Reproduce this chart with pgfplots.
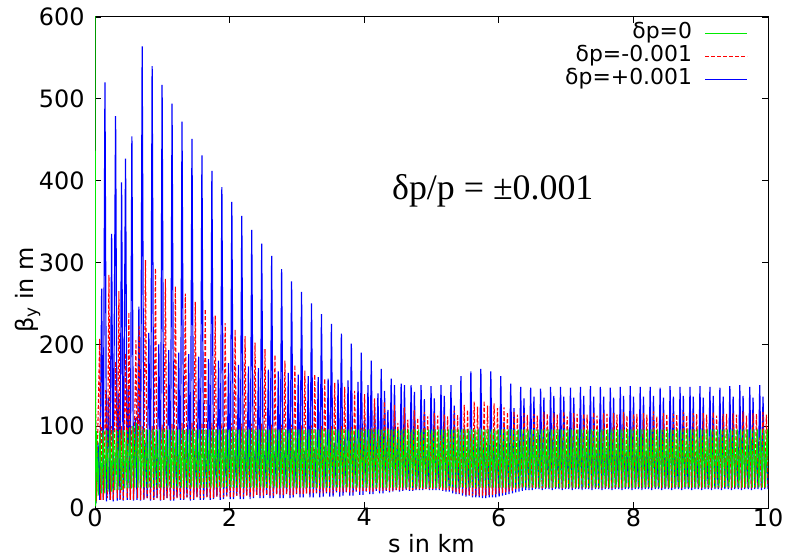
\documentclass[border=0pt]{standalone}
\usepackage{pgfplots}
\pgfplotsset{compat=1.18}
\usepackage{fontspec}
\setmainfont{DejaVu Sans}
\newfontfamily\seriffont{Liberation Serif}
\definecolor{gg}{RGB}{0,235,0}
\definecolor{rr}{RGB}{255,0,0}
\definecolor{bb}{RGB}{0,0,255}
\begin{document}
\begin{tikzpicture}
\begin{axis}[
  name=ax, set layers, clip mode=individual,
  scale only axis, width=673bp, height=491bp,
  xmin=0, xmax=10, ymin=0, ymax=600,
  xtick={0,2,4,6,8,10}, ytick={0,100,200,300,400,500,600},
  tick align=inside, major tick length=6bp,
  axis line style={line width=1bp},
  every tick/.style={black, line width=0.8bp},
  tick label style={font=\fontsize{24}{24}\selectfont},
  /pgf/number format/assume math mode=true,
  yticklabel style={xshift=-7bp},
  xticklabel style={yshift=3bp},
  xlabel={s in km}, ylabel={β\textsubscript{y} in m},
  label style={font=\fontsize{24}{24}\selectfont},
  xlabel style={at={(axis description cs:0.5,-0.073)}, anchor=center},
  ylabel style={at={(axis description cs:-0.1,0.444)}, anchor=center},
  legend plot pos=right,
  legend cell align=right,
  legend image code/.code={\draw[#1, line width=1.5bp] (0bp,0bp) -- (42bp,0bp);},
  legend style={draw=none, fill=none, at={(rel axis cs:0.975,0.992)}, anchor=north east,
    font=\fontsize{22}{22}\selectfont, column sep=12bp, row sep=2bp,
    nodes={inner sep=0.5bp, text height=15bp, text depth=5bp}},
]
\addplot[gg, line width=1.1bp, on layer=axis foreground] table[row sep=\\] {x y\\
0.000 620\\ 0.010 2\\ 0.022 94\\ 0.047 15\\ 0.072 94\\ 0.097 18\\ 0.121 95\\ 0.146 18\\ 0.170 95\\ 0.195 20\\ 0.220 95\\ 0.245 20\\
0.269 95\\ 0.294 22\\ 0.318 95\\ 0.343 22\\ 0.368 95\\ 0.393 22\\ 0.417 95\\ 0.442 24\\ 0.466 95\\ 0.491 24\\ 0.516 98\\ 0.541 24\\
0.565 100\\ 0.590 25\\ 0.614 104\\ 0.639 25\\ 0.664 100\\ 0.689 25\\
0.713 96\\ 0.738 25\\ 0.762 96\\ 0.787 25\\ 0.812 96\\ 0.837 25\\
0.861 96\\ 0.886 25\\ 0.910 96\\ 0.935 25\\ 0.960 96\\ 0.985 25\\
1.009 96\\ 1.034 25\\ 1.058 96\\ 1.083 25\\ 1.108 96\\ 1.133 25\\
1.157 96\\ 1.182 25\\ 1.206 96\\ 1.231 25\\ 1.256 96\\ 1.281 25\\
1.305 96\\ 1.330 25\\ 1.354 96\\ 1.379 25\\ 1.404 96\\ 1.429 25\\
1.453 96\\ 1.478 25\\ 1.502 96\\ 1.527 25\\ 1.552 96\\ 1.577 25\\
1.601 96\\ 1.626 25\\ 1.650 96\\ 1.675 25\\ 1.700 96\\ 1.725 25\\
1.749 96\\ 1.774 25\\ 1.798 96\\ 1.823 25\\ 1.848 96\\ 1.873 25\\
1.897 96\\ 1.922 25\\ 1.946 96\\ 1.971 25\\ 1.996 96\\ 2.021 25\\
2.045 96\\ 2.070 25\\ 2.094 96\\ 2.119 25\\ 2.144 96\\ 2.169 25\\
2.193 96\\ 2.218 25\\ 2.242 96\\ 2.267 25\\ 2.292 96\\ 2.317 25\\
2.341 96\\ 2.366 25\\ 2.390 96\\ 2.415 25\\ 2.440 96\\ 2.465 25\\
2.489 96\\ 2.514 25\\ 2.538 96\\ 2.563 25\\ 2.588 96\\ 2.613 25\\
2.637 96\\ 2.662 25\\ 2.686 96\\ 2.711 25\\ 2.736 96\\ 2.761 25\\
2.785 96\\ 2.810 25\\ 2.834 96\\ 2.859 25\\ 2.884 96\\ 2.909 25\\
2.933 96\\ 2.958 25\\ 2.982 96\\ 3.007 25\\ 3.032 96\\ 3.057 25\\
3.081 96\\ 3.106 25\\ 3.130 96\\ 3.155 25\\ 3.180 96\\ 3.205 25\\
3.229 96\\ 3.254 25\\ 3.278 96\\ 3.303 25\\ 3.328 96\\ 3.353 25\\
3.377 96\\ 3.402 25\\ 3.426 96\\ 3.451 25\\ 3.476 96\\ 3.501 25\\
3.525 96\\ 3.550 25\\ 3.574 96\\ 3.599 25\\ 3.624 96\\ 3.649 25\\
3.673 96\\ 3.698 25\\ 3.722 96\\ 3.747 25\\ 3.772 96\\ 3.797 25\\
3.821 96\\ 3.846 25\\ 3.870 96\\ 3.895 25\\ 3.920 96\\ 3.945 25\\
3.969 96\\ 3.994 25\\ 4.018 96\\ 4.043 25\\ 4.068 96\\ 4.093 25\\
4.117 96\\ 4.142 25\\ 4.166 96\\ 4.191 25\\ 4.216 96\\ 4.241 25\\
4.265 96\\ 4.290 25\\ 4.314 96\\ 4.339 25\\ 4.364 96\\ 4.389 25\\
4.413 96\\ 4.438 25\\ 4.462 96\\ 4.487 25\\ 4.512 96\\ 4.537 25\\
4.561 96\\ 4.586 25\\ 4.610 96\\ 4.635 25\\ 4.660 96\\ 4.685 25\\
4.709 96\\ 4.734 25\\ 4.758 96\\ 4.783 25\\ 4.808 96\\ 4.833 25\\
4.857 96\\ 4.882 25\\ 4.906 96\\ 4.931 25\\ 4.956 96\\ 4.981 25\\
5.005 96\\ 5.030 25\\ 5.054 96\\ 5.079 25\\ 5.104 96\\ 5.129 25\\
5.153 96\\ 5.178 25\\ 5.202 96\\ 5.227 25\\ 5.252 96\\ 5.277 25\\
5.301 96\\ 5.326 25\\ 5.350 96\\ 5.375 25\\ 5.400 96\\ 5.425 25\\
5.449 96\\ 5.474 25\\ 5.498 96\\ 5.523 25\\ 5.548 96\\ 5.573 25\\
5.597 96\\ 5.622 25\\ 5.646 96\\ 5.671 25\\ 5.696 96\\ 5.721 25\\
5.745 96\\ 5.770 25\\ 5.794 96\\ 5.819 25\\ 5.844 96\\ 5.869 25\\
5.893 96\\ 5.918 25\\ 5.942 96\\ 5.967 25\\ 5.992 96\\ 6.017 25\\
6.041 96\\ 6.066 25\\ 6.090 96\\ 6.115 25\\ 6.140 96\\ 6.165 25\\
6.189 96\\ 6.214 25\\ 6.238 96\\ 6.263 25\\ 6.288 96\\ 6.313 25\\
6.337 96\\ 6.362 25\\ 6.386 96\\ 6.411 25\\ 6.436 96\\ 6.461 25\\
6.485 96\\ 6.510 25\\ 6.534 96\\ 6.559 25\\ 6.584 96\\ 6.609 25\\
6.633 96\\ 6.658 25\\ 6.682 96\\ 6.707 25\\ 6.732 96\\ 6.757 25\\
6.781 96\\ 6.806 25\\ 6.830 96\\ 6.855 25\\ 6.880 96\\ 6.905 25\\
6.929 96\\ 6.954 25\\ 6.978 96\\ 7.003 25\\ 7.028 96\\ 7.053 25\\
7.077 96\\ 7.102 25\\ 7.126 96\\ 7.151 25\\ 7.176 96\\ 7.201 25\\
7.225 96\\ 7.250 25\\ 7.274 96\\ 7.299 25\\ 7.324 96\\ 7.349 25\\
7.373 96\\ 7.398 25\\ 7.422 96\\ 7.447 25\\ 7.472 96\\ 7.497 25\\
7.521 96\\ 7.546 25\\ 7.570 96\\ 7.595 25\\ 7.620 96\\ 7.645 25\\
7.669 96\\ 7.694 25\\ 7.718 96\\ 7.743 25\\ 7.768 96\\ 7.793 25\\
7.817 96\\ 7.842 25\\ 7.866 96\\ 7.891 25\\ 7.916 96\\ 7.941 25\\
7.965 96\\ 7.990 25\\ 8.014 96\\ 8.039 25\\ 8.064 96\\ 8.089 25\\
8.113 96\\ 8.138 25\\ 8.162 96\\ 8.187 25\\ 8.212 96\\ 8.237 25\\
8.261 96\\ 8.286 25\\ 8.310 96\\ 8.335 25\\ 8.360 96\\ 8.385 25\\
8.409 96\\ 8.434 25\\ 8.458 96\\ 8.483 25\\ 8.508 96\\ 8.533 25\\
8.557 96\\ 8.582 25\\ 8.606 96\\ 8.631 25\\ 8.656 96\\ 8.681 25\\
8.705 96\\ 8.730 25\\ 8.754 96\\ 8.779 25\\ 8.804 96\\ 8.829 25\\
8.853 96\\ 8.878 25\\ 8.902 96\\ 8.927 25\\ 8.952 96\\ 8.977 25\\
9.001 96\\ 9.026 25\\ 9.050 96\\ 9.075 25\\ 9.100 96\\ 9.125 25\\
9.149 96\\ 9.174 25\\ 9.198 96\\ 9.223 25\\ 9.248 96\\ 9.273 25\\
9.297 96\\ 9.322 25\\ 9.346 96\\ 9.371 25\\ 9.396 96\\ 9.421 25\\
9.445 96\\ 9.470 25\\ 9.494 96\\ 9.519 25\\ 9.544 96\\ 9.569 25\\
9.593 96\\ 9.618 25\\ 9.642 96\\ 9.667 25\\ 9.692 96\\ 9.717 25\\
9.741 96\\ 9.766 25\\ 9.790 96\\ 9.815 25\\ 9.840 96\\ 9.865 25\\
9.889 96\\ 9.914 25\\ 9.938 96\\ 9.963 25\\ 9.988 96\\ 10.013 25\\
};
\addlegendentry{δp=0}
\addplot[rr, line width=1.1bp, dash pattern=on 4bp off 2bp, on layer=axis descriptions] table[row sep=\\] {x y\\
0.000 232\\ 0.020 8\\ 0.070 207\\ 0.085 10\\
0.099 100\\ 0.124 10\\ 0.159 144\\ 0.184 12\\ 0.207 285\\ 0.229 10\\
0.247 100\\ 0.272 10\\ 0.307 179\\ 0.332 12\\ 0.355 265\\ 0.377 10\\
0.395 100\\ 0.420 10\\ 0.455 189\\ 0.480 12\\ 0.503 239\\ 0.525 10\\
0.548 100\\ 0.573 10\\ 0.608 205\\ 0.633 12\\ 0.656 222\\ 0.678 10\\
0.701 100\\ 0.726 10\\ 0.750 303\\ 0.775 12\\ 0.800 60\\ 0.825 10\\
0.849 100\\ 0.874 10\\ 0.898 293\\ 0.923 12\\ 0.948 60\\ 0.973 10\\
0.997 102\\ 1.022 10\\ 1.046 280\\ 1.071 12\\ 1.096 62\\ 1.121 10\\
1.145 103\\ 1.170 11\\ 1.194 271\\ 1.219 12\\ 1.244 62\\ 1.269 11\\
1.293 104\\ 1.318 11\\ 1.342 262\\ 1.367 13\\ 1.392 63\\ 1.417 11\\
1.441 104\\ 1.466 11\\ 1.490 252\\ 1.515 13\\ 1.540 64\\ 1.565 12\\
1.589 104\\ 1.614 12\\ 1.638 243\\ 1.663 13\\ 1.688 65\\ 1.713 12\\
1.737 104\\ 1.762 12\\ 1.786 235\\ 1.811 14\\ 1.836 66\\ 1.861 13\\
1.885 104\\ 1.910 13\\ 1.934 226\\ 1.959 14\\ 1.984 67\\ 2.009 13\\
2.033 104\\ 2.058 13\\ 2.082 218\\ 2.107 15\\ 2.132 68\\ 2.157 14\\
2.181 103\\ 2.206 14\\ 2.230 210\\ 2.255 15\\ 2.280 68\\ 2.305 14\\
2.329 103\\ 2.354 14\\ 2.378 202\\ 2.403 16\\ 2.428 69\\ 2.453 15\\
2.477 103\\ 2.502 15\\ 2.526 194\\ 2.551 16\\ 2.576 70\\ 2.601 15\\
2.625 102\\ 2.650 15\\ 2.674 187\\ 2.699 17\\ 2.724 70\\ 2.749 16\\
2.773 102\\ 2.798 16\\ 2.822 180\\ 2.847 17\\ 2.872 71\\ 2.897 16\\
2.921 102\\ 2.946 16\\ 2.970 175\\ 2.995 18\\ 3.020 72\\ 3.045 17\\
3.069 101\\ 3.094 17\\ 3.118 168\\ 3.143 18\\ 3.168 72\\ 3.193 17\\
3.217 101\\ 3.242 17\\ 3.266 163\\ 3.291 19\\ 3.316 73\\ 3.341 18\\
3.365 100\\ 3.390 18\\ 3.414 158\\ 3.439 19\\ 3.464 74\\ 3.489 18\\
3.513 100\\ 3.538 18\\ 3.562 153\\ 3.587 20\\ 3.612 75\\ 3.637 19\\
3.661 100\\ 3.686 19\\ 3.710 148\\ 3.735 20\\ 3.760 76\\ 3.785 19\\
3.809 99\\ 3.834 19\\ 3.858 143\\ 3.883 21\\ 3.908 78\\ 3.933 20\\
3.957 98\\ 3.982 20\\ 4.006 139\\ 4.031 21\\ 4.056 82\\ 4.081 20\\
4.105 97\\ 4.130 20\\ 4.154 134\\ 4.179 22\\ 4.204 90\\ 4.229 21\\
4.253 96\\ 4.278 21\\ 4.302 130\\ 4.327 22\\ 4.352 98\\ 4.377 21\\
4.401 95\\ 4.426 21\\ 4.450 126\\ 4.475 22\\ 4.500 104\\ 4.525 22\\
4.549 94\\ 4.574 22\\ 4.598 123\\ 4.623 23\\ 4.648 108\\ 4.673 22\\
4.697 93\\ 4.722 22\\ 4.746 120\\ 4.771 23\\ 4.796 110\\ 4.821 23\\
4.845 92\\ 4.870 23\\ 4.894 117\\ 4.919 23\\ 4.944 112\\ 4.969 23\\
4.993 91\\ 5.018 23\\ 5.042 116\\ 5.067 24\\ 5.092 113\\ 5.117 23\\
5.141 90\\ 5.166 22\\ 5.190 114\\ 5.215 22\\ 5.240 112\\ 5.265 21\\
5.289 90\\ 5.314 20\\ 5.338 119\\ 5.363 19\\ 5.388 114\\ 5.413 18\\
5.437 90\\ 5.462 17\\ 5.486 126\\ 5.511 16\\ 5.536 120\\ 5.561 16\\
5.585 90\\ 5.610 15\\ 5.634 130\\ 5.659 15\\ 5.684 124\\ 5.709 15\\
5.733 90\\ 5.758 15\\ 5.782 131\\ 5.807 15\\ 5.832 125\\ 5.857 16\\
5.881 90\\ 5.906 16\\ 5.930 128\\ 5.955 17\\ 5.980 122\\ 6.005 18\\
6.029 89\\ 6.054 18\\ 6.078 123\\ 6.103 19\\ 6.128 117\\ 6.153 20\\
6.177 88\\ 6.202 21\\ 6.226 118\\ 6.251 22\\ 6.276 114\\ 6.301 23\\
6.325 86\\ 6.350 24\\ 6.374 116\\ 6.399 25\\ 6.424 114\\ 6.449 25\\
6.473 86\\ 6.498 24\\ 6.522 115\\ 6.547 25\\ 6.572 113\\ 6.597 25\\
6.621 86\\ 6.646 24\\ 6.670 117\\ 6.695 25\\ 6.720 115\\ 6.745 25\\
6.769 86\\ 6.794 24\\ 6.818 116\\ 6.843 25\\ 6.868 114\\ 6.893 25\\
6.917 86\\ 6.942 24\\ 6.966 118\\ 6.991 25\\ 7.016 112\\ 7.041 25\\
7.065 86\\ 7.090 24\\ 7.114 116\\ 7.139 25\\ 7.164 115\\ 7.189 25\\
7.213 86\\ 7.238 24\\ 7.262 115\\ 7.287 25\\ 7.312 114\\ 7.337 25\\
7.361 86\\ 7.386 24\\ 7.410 117\\ 7.435 25\\ 7.460 113\\ 7.485 25\\
7.509 86\\ 7.534 24\\ 7.558 116\\ 7.583 25\\ 7.608 115\\ 7.633 25\\
7.657 86\\ 7.682 24\\ 7.706 116\\ 7.731 25\\ 7.756 114\\ 7.781 25\\
7.805 86\\ 7.830 24\\ 7.854 117\\ 7.879 25\\ 7.904 113\\ 7.929 25\\
7.953 86\\ 7.978 24\\ 8.002 115\\ 8.027 25\\ 8.052 115\\ 8.077 25\\
8.101 86\\ 8.126 24\\ 8.150 116\\ 8.175 25\\ 8.200 114\\ 8.225 25\\
8.249 86\\ 8.274 24\\ 8.298 118\\ 8.323 25\\ 8.348 112\\ 8.373 25\\
8.397 86\\ 8.422 24\\ 8.446 116\\ 8.471 25\\ 8.496 115\\ 8.521 25\\
8.545 86\\ 8.570 24\\ 8.594 115\\ 8.619 25\\ 8.644 114\\ 8.669 25\\
8.693 86\\ 8.718 24\\ 8.742 117\\ 8.767 25\\ 8.792 113\\ 8.817 25\\
8.841 86\\ 8.866 24\\ 8.890 116\\ 8.915 25\\ 8.940 115\\ 8.965 25\\
8.989 86\\ 9.014 24\\ 9.038 116\\ 9.063 25\\ 9.088 114\\ 9.113 25\\
9.137 86\\ 9.162 24\\ 9.186 117\\ 9.211 25\\ 9.236 113\\ 9.261 25\\
9.285 86\\ 9.310 24\\ 9.334 115\\ 9.359 25\\ 9.384 115\\ 9.409 25\\
9.433 86\\ 9.458 24\\ 9.482 116\\ 9.507 25\\ 9.532 114\\ 9.557 25\\
9.581 86\\ 9.606 24\\ 9.630 118\\ 9.655 25\\ 9.680 113\\ 9.705 25\\
9.729 86\\ 9.754 24\\ 9.778 116\\ 9.803 25\\ 9.828 115\\ 9.853 25\\
9.877 86\\ 9.902 24\\ 9.926 117\\ 9.951 25\\ 9.976 114\\ 10.001 25\\
};
\addlegendentry{δp=-0.001}
\addplot[bb, line width=1.2bp] table[row sep=\\] {x y\\
0.000 170\\ 0.015 6\\ 0.045 80\\ 0.072 10\\
0.099 268\\ 0.122 10\\ 0.148 520\\ 0.172 8\\ 0.198 135\\ 0.222 10\\
0.247 335\\ 0.270 8\\ 0.306 479\\ 0.330 9\\ 0.350 140\\ 0.372 10\\
0.395 398\\ 0.420 9\\ 0.454 427\\ 0.478 10\\ 0.500 150\\ 0.524 10\\
0.548 454\\ 0.572 9\\ 0.600 110\\ 0.625 10\\ 0.652 246\\ 0.676 9\\
0.701 564\\ 0.726 10\\ 0.750 80\\ 0.775 12\\ 0.800 214\\ 0.825 9\\
0.849 540\\ 0.874 10\\ 0.898 78\\ 0.923 12\\ 0.948 200\\ 0.973 9\\
0.997 517\\ 1.022 10\\ 1.046 76\\ 1.071 12\\ 1.096 193\\ 1.121 9\\
1.145 494\\ 1.170 9\\ 1.194 75\\ 1.219 13\\ 1.244 190\\ 1.269 10\\
1.293 472\\ 1.318 10\\ 1.342 74\\ 1.367 13\\ 1.392 188\\ 1.417 9\\
1.441 451\\ 1.466 10\\ 1.490 72\\ 1.515 14\\ 1.540 185\\ 1.565 10\\
1.589 431\\ 1.614 10\\ 1.638 72\\ 1.663 14\\ 1.688 182\\ 1.713 10\\
1.737 412\\ 1.762 11\\ 1.786 70\\ 1.811 14\\ 1.836 180\\ 1.861 10\\
1.885 392\\ 1.910 11\\ 1.934 70\\ 1.959 15\\ 1.984 177\\ 2.009 11\\
2.033 374\\ 2.058 11\\ 2.082 70\\ 2.107 15\\ 2.132 175\\ 2.157 11\\
2.181 357\\ 2.206 11\\ 2.230 70\\ 2.255 16\\ 2.280 173\\ 2.305 11\\
2.329 340\\ 2.354 12\\ 2.378 70\\ 2.403 16\\ 2.428 171\\ 2.453 12\\
2.477 323\\ 2.502 12\\ 2.526 70\\ 2.551 16\\ 2.576 169\\ 2.601 12\\
2.625 308\\ 2.650 12\\ 2.674 70\\ 2.699 17\\ 2.724 167\\ 2.749 12\\
2.773 292\\ 2.798 12\\ 2.822 70\\ 2.847 17\\ 2.872 165\\ 2.897 12\\
2.921 277\\ 2.946 13\\ 2.970 70\\ 2.995 17\\ 3.020 163\\ 3.045 13\\
3.069 264\\ 3.094 13\\ 3.118 70\\ 3.143 18\\ 3.168 161\\ 3.193 13\\
3.217 250\\ 3.242 13\\ 3.266 72\\ 3.291 18\\ 3.316 160\\ 3.341 13\\
3.365 237\\ 3.390 14\\ 3.414 75\\ 3.439 18\\ 3.464 158\\ 3.489 14\\
3.513 225\\ 3.538 14\\ 3.562 80\\ 3.587 19\\ 3.612 157\\ 3.637 14\\
3.661 213\\ 3.686 15\\ 3.710 85\\ 3.735 19\\ 3.760 156\\ 3.785 15\\
3.809 201\\ 3.834 15\\ 3.858 92\\ 3.883 20\\ 3.908 154\\ 3.933 16\\
3.957 190\\ 3.982 16\\ 4.006 108\\ 4.031 20\\ 4.056 150\\ 4.081 17\\
4.105 180\\ 4.130 17\\ 4.154 128\\ 4.179 21\\ 4.204 140\\ 4.229 18\\
4.253 170\\ 4.278 18\\ 4.302 143\\ 4.327 21\\ 4.352 120\\ 4.377 19\\
4.401 158\\ 4.426 20\\ 4.450 150\\ 4.475 22\\ 4.500 95\\ 4.525 20\\
4.549 152\\ 4.574 21\\ 4.598 150\\ 4.623 22\\ 4.648 75\\ 4.673 21\\
4.697 150\\ 4.722 21\\ 4.746 142\\ 4.771 22\\ 4.796 72\\ 4.821 22\\
4.845 150\\ 4.870 22\\ 4.894 133\\ 4.919 23\\ 4.944 70\\ 4.969 22\\
4.993 149\\ 5.018 22\\ 5.042 134\\ 5.067 22\\ 5.092 70\\ 5.117 22\\
5.141 150\\ 5.166 21\\ 5.190 137\\ 5.215 20\\ 5.240 70\\ 5.265 20\\
5.289 150\\ 5.314 18\\ 5.338 125\\ 5.363 17\\ 5.388 72\\ 5.413 17\\
5.437 161\\ 5.462 15\\ 5.486 100\\ 5.511 14\\ 5.536 75\\ 5.561 15\\
5.585 167\\ 5.610 13\\ 5.634 90\\ 5.659 13\\ 5.684 78\\ 5.709 13\\
5.733 170\\ 5.758 12\\ 5.782 88\\ 5.807 12\\ 5.832 78\\ 5.857 13\\
5.881 167\\ 5.906 13\\ 5.930 92\\ 5.955 13\\ 5.980 76\\ 6.005 14\\
6.029 161\\ 6.054 15\\ 6.078 105\\ 6.103 16\\ 6.128 74\\ 6.153 17\\
6.177 152\\ 6.202 18\\ 6.226 122\\ 6.251 19\\ 6.276 72\\ 6.301 20\\
6.325 148\\ 6.350 21\\ 6.374 134\\ 6.399 22\\ 6.424 70\\ 6.449 22\\
6.473 147\\ 6.498 22\\ 6.522 136\\ 6.547 23\\ 6.572 70\\ 6.597 23\\
6.621 146\\ 6.646 22\\ 6.670 135\\ 6.695 23\\ 6.720 70\\ 6.745 23\\
6.769 148\\ 6.794 22\\ 6.818 137\\ 6.843 23\\ 6.868 70\\ 6.893 23\\
6.917 148\\ 6.942 22\\ 6.966 136\\ 6.991 23\\ 7.016 70\\ 7.041 23\\
7.065 147\\ 7.090 22\\ 7.114 135\\ 7.139 23\\ 7.164 70\\ 7.189 23\\
7.213 148\\ 7.238 22\\ 7.262 137\\ 7.287 23\\ 7.312 70\\ 7.337 23\\
7.361 149\\ 7.386 22\\ 7.410 136\\ 7.435 23\\ 7.460 70\\ 7.485 23\\
7.509 148\\ 7.534 22\\ 7.558 136\\ 7.583 23\\ 7.608 70\\ 7.633 23\\
7.657 147\\ 7.682 22\\ 7.706 135\\ 7.731 23\\ 7.756 70\\ 7.781 23\\
7.805 148\\ 7.830 22\\ 7.854 137\\ 7.879 23\\ 7.904 70\\ 7.929 23\\
7.953 149\\ 7.978 22\\ 8.002 136\\ 8.027 23\\ 8.052 70\\ 8.077 23\\
8.101 148\\ 8.126 22\\ 8.150 136\\ 8.175 23\\ 8.200 70\\ 8.225 23\\
8.249 148\\ 8.274 22\\ 8.298 137\\ 8.323 23\\ 8.348 70\\ 8.373 23\\
8.397 147\\ 8.422 22\\ 8.446 135\\ 8.471 23\\ 8.496 70\\ 8.521 23\\
8.545 149\\ 8.570 22\\ 8.594 136\\ 8.619 23\\ 8.644 70\\ 8.669 23\\
8.693 148\\ 8.718 22\\ 8.742 137\\ 8.767 23\\ 8.792 70\\ 8.817 23\\
8.841 148\\ 8.866 22\\ 8.890 136\\ 8.915 23\\ 8.940 70\\ 8.965 23\\
8.989 149\\ 9.014 22\\ 9.038 135\\ 9.063 23\\ 9.088 70\\ 9.113 23\\
9.137 148\\ 9.162 22\\ 9.186 137\\ 9.211 23\\ 9.236 70\\ 9.261 23\\
9.285 147\\ 9.310 22\\ 9.334 136\\ 9.359 23\\ 9.384 70\\ 9.409 23\\
9.433 149\\ 9.458 22\\ 9.482 136\\ 9.507 23\\ 9.532 70\\ 9.557 23\\
9.581 150\\ 9.606 22\\ 9.630 137\\ 9.655 23\\ 9.680 70\\ 9.705 23\\
9.729 148\\ 9.754 22\\ 9.778 135\\ 9.803 23\\ 9.828 70\\ 9.853 23\\
9.877 150\\ 9.902 22\\ 9.926 136\\ 9.951 23\\ 9.976 70\\ 10.001 23\\
};
\addlegendentry{δp=+0.001}
\node[font=\seriffont\fontsize{36}{36}\selectfont] at (axis cs:5.91,388) {δp/p = ±0.001};
\end{axis}
\pgfresetboundingbox
\path[use as bounding box] ([xshift=-95bp,yshift=-51bp]ax.south west) rectangle ([xshift=27bp,yshift=17bp]ax.north east);
\end{tikzpicture}
\end{document}
